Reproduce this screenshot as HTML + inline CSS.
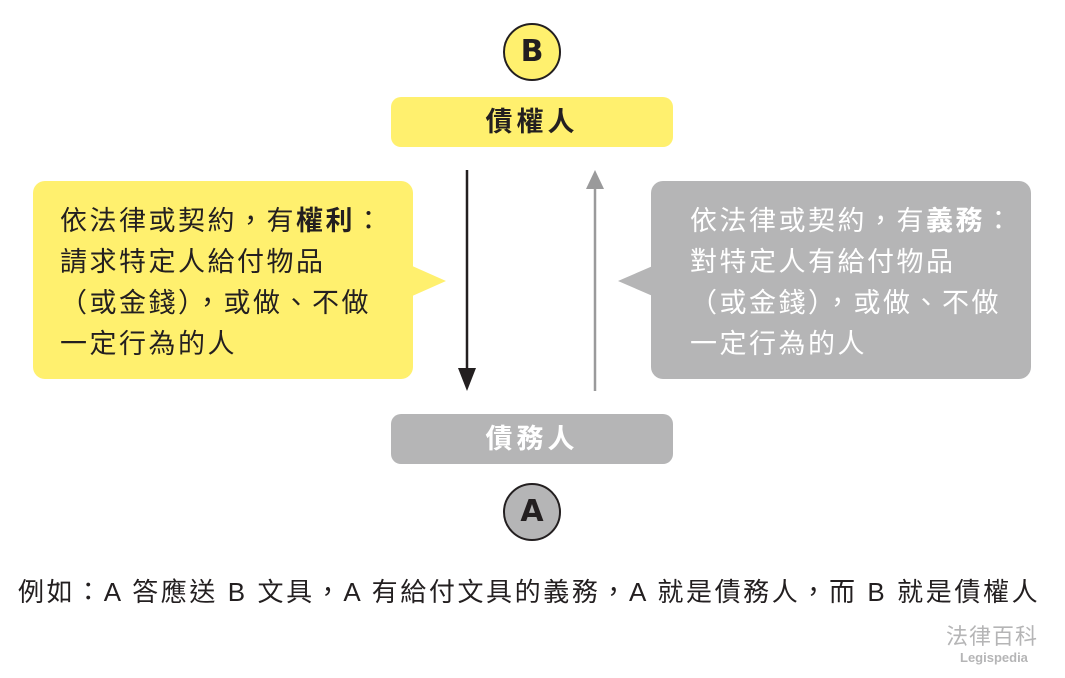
<!DOCTYPE html>
<html><head><meta charset="utf-8">
<style>
body{margin:0;width:1065px;height:678px;background:#fff;position:relative;overflow:hidden;font-family:"Liberation Sans","Noto Sans CJK TC",sans-serif;color:#231f20}
.abs{position:absolute}
.circ{position:absolute;width:58px;height:58px;border:2.5px solid #231f20;border-radius:50%;box-sizing:border-box;text-align:center;line-height:53px;font-size:30px;font-weight:bold;font-family:"DejaVu Sans",sans-serif}
.bar{position:absolute;left:391px;width:282px;height:50px;border-radius:10px;text-align:center;line-height:50px;font-size:27px;font-weight:bold;letter-spacing:4px}
.box{position:absolute;top:181px;width:380px;height:198px;border-radius:12px;box-sizing:border-box;padding-top:20px;font-size:27px;line-height:41px;letter-spacing:2.5px}
</style></head><body>
<div class="circ" style="left:503px;top:23px;background:#fff06e">B</div>
<div class="bar" style="top:97px;background:#fff06e">債權人</div>
<div class="bar" style="top:414px;background:#b5b5b6;color:#fff">債務人</div>
<div class="circ" style="left:503px;top:483px;background:#b5b5b6">A</div>

<svg class="abs" style="left:0;top:0" width="1065" height="678">
<line x1="467" y1="170" x2="467" y2="376" stroke="#231f20" stroke-width="2.5"/>
<polygon points="458,368 476,368 467,391" fill="#231f20"/>
<line x1="595" y1="186" x2="595" y2="391" stroke="#9a9a9b" stroke-width="2.5"/>
<polygon points="586,189 604,189 595,170" fill="#9a9a9b"/>
<polygon points="410,265 446,281 410,297" fill="#fff06e"/>
<polygon points="655,265 618,281 655,297" fill="#b5b5b6"/>
</svg>

<div class="box" style="left:33px;background:#fff06e;padding-left:27px">依法律或契約，有<b>權利</b>：<br>請求特定人給付物品<br>（或金錢），或做、不做<br>一定行為的人</div>
<div class="box" style="left:651px;background:#b5b5b6;color:#fff;padding-left:39px">依法律或契約，有<b>義務</b>：<br>對特定人有給付物品<br>（或金錢），或做、不做<br>一定行為的人</div>

<div class="abs" style="left:18px;top:572px;font-size:26px;white-space:nowrap;letter-spacing:2.6px">例如：A 答應送 B 文具，A 有給付文具的義務，A 就是債務人，而 B 就是債權人</div>
<div class="abs" style="left:946px;top:619px;font-size:22px;color:#b5b5b6;letter-spacing:1px">法律百科</div>
<div class="abs" style="left:960px;top:650px;font-size:13px;font-weight:bold;color:#b5b5b6">Legispedia</div>
</body></html>
